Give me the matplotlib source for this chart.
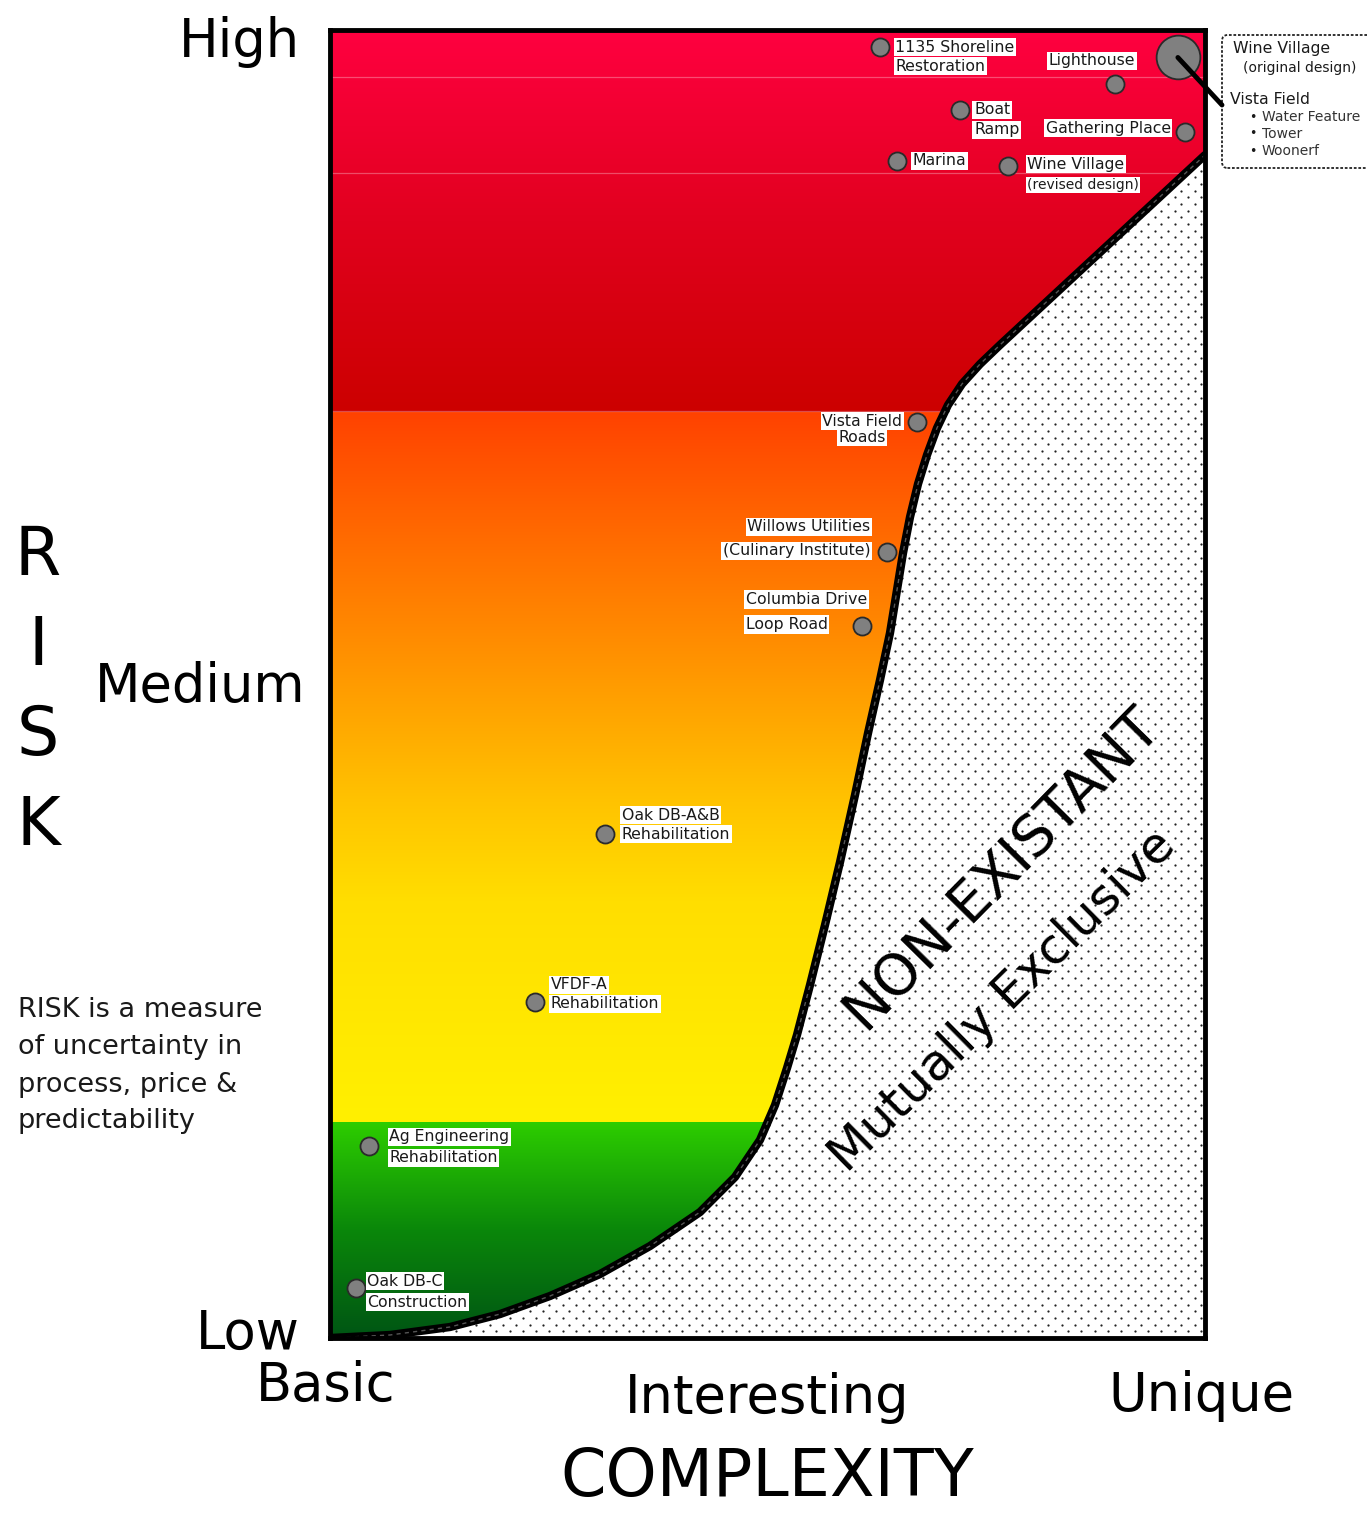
import numpy as np
import matplotlib
matplotlib.use("Agg")
import matplotlib.pyplot as plt
from matplotlib.patches import Polygon, FancyBboxPatch, ConnectionPatch
from matplotlib.colors import LinearSegmentedColormap

# ---------------- data ----------------
project_names = [
    "1135 Shoreline\nRestoration", "Lighthouse", "Wine Village (original)", "Boat\nRamp",
    "Gathering Place", "Marina", "Wine Village\n(revised design)", "Vista Field\nRoads",
    "Willows Utilities\n(Culinary Institute)", "Columbia Drive\nLoop Road",
    "Oak DB-A&B\nRehabilitation", "VFDF-A\nRehabilitation",
    "Ag Engineering\nRehabilitation", "Oak DB-C\nConstruction",
]
complexity = [62.9, 89.7, 96.9, 72.0, 97.7, 64.8, 77.5, 67.1, 63.7, 60.8, 31.4, 23.4, 4.5, 3.0]
risk = [98.7, 95.9, 97.9, 93.9, 92.2, 90.0, 89.6, 70.0, 60.1, 54.4, 38.5, 25.7, 14.7, 3.8]

boundary_x = [0.0, 6.86, 13.71, 19.43, 25.14, 30.86, 36.57, 42.29, 46.29, 49.14, 50.86,
              52.23, 53.37, 54.86, 56.57, 58.29, 60.0, 61.49, 62.86, 64.0, 64.8, 65.49,
              66.29, 67.2, 68.23, 69.37, 70.63, 72.23, 74.29, 76.57, 100.0]
boundary_y = [0.0, 0.23, 0.84, 1.83, 3.21, 4.89, 7.03, 9.63, 12.31, 15.14, 17.81,
              20.64, 23.17, 26.99, 31.57, 36.39, 41.51, 46.25, 50.31, 53.9, 57.19, 60.02,
              62.77, 65.29, 67.51, 69.57, 71.33, 72.94, 74.46, 75.92, 90.44]

band_bottom = [0.0, 16.5, 70.8]
band_top = [16.5, 70.8, 100.0]

risk_labels = ["High", "Medium", "Low"]
complexity_labels = ["Basic", "Interesting", "Unique"]

callout_lines = ["Wine Village", "(original design)", "Vista Field",
                 "Water Feature", "Tower", "Woonerf"]

# ---------------- figure ----------------
W, H = 1367, 1513
fig = plt.figure(figsize=(W / 100, H / 100), dpi=100)
fig.patch.set_facecolor("white")
ax = fig.add_axes([330 / W, 1 - 1338 / H, 875 / W, 1308 / H])


def fx(p):
    return p / W


def fy(p):
    return 1 - p / H


# region above the boundary curve (colored region)
region = Polygon(list(zip(boundary_x, boundary_y)) + [(100, 100), (0, 100)],
                 closed=True, facecolor="none", edgecolor="none", transform=ax.transData)
ax.add_patch(region)

# dotted "non-existant" background
gx = np.arange(0.76, 100, 1.52)
gy = np.arange(0.5, 100, 1.02)
X1, Y1 = np.meshgrid(gx, gy)
X2, Y2 = np.meshgrid(gx + 0.76, gy + 0.51)
ax.scatter(np.concatenate([X1.ravel(), X2.ravel()]), np.concatenate([Y1.ravel(), Y2.ravel()]),
           s=2.6, c="#222222", linewidths=0, zorder=1)

band_colors = [
    [(0.0, (0 / 255, 85 / 255, 20 / 255)), (0.5, (10 / 255, 135 / 255, 10 / 255)),
     (1.0, (45 / 255, 205 / 255, 0 / 255))],
    [(0.0, (255 / 255, 240 / 255, 0)), (0.31, (255 / 255, 222 / 255, 0)),
     (0.45, (255 / 255, 195 / 255, 0)), (0.68, (255 / 255, 140 / 255, 0)),
     (1.0, (255 / 255, 66 / 255, 0))],
    [(0.0, (204 / 255, 0, 0)), (0.5, (225 / 255, 0, 30 / 255)), (1.0, (255 / 255, 0, 64 / 255))],
]
for y0, y1, cols in zip(band_bottom, band_top, band_colors):
    cmap = LinearSegmentedColormap.from_list("b", cols)
    grad = np.linspace(0, 1, 256).reshape(-1, 1)
    im = ax.imshow(grad, extent=[0, 100, y0, y1], origin="lower", cmap=cmap,
                   aspect="auto", interpolation="bilinear", zorder=2)
    im.set_clip_path(region)

for yl in [96.4, 89.1, 70.9]:
    ln = ax.axhline(yl, color=(1, 1, 1, 0.3), lw=0.9, zorder=2.5)
    ln.set_clip_path(region)

# boundary curve
ax.plot(boundary_x, boundary_y, color="black", lw=6, zorder=3,
        solid_capstyle="round", solid_joinstyle="round")
ax.plot(boundary_x, boundary_y, color="#555555", lw=1.0, ls=(0, (3, 3)), zorder=3.1)

ax.set_xlim(0, 100)
ax.set_ylim(0, 100)
ax.set_xticks([])
ax.set_yticks([])
for s in ax.spines.values():
    s.set_linewidth(3.5)
    s.set_color("black")
    s.set_zorder(6)

# ---------------- points & labels ----------------
# per project: (dx px, dy px of first line, ha, line height px, font sizes per line)
FS = 11.3
label_style = [
    (15, 0, "left", 19, [FS, FS]),
    (-23, -23, "center", 0, [FS]),
    None,
    (14, 0, "left", 20, [FS, FS]),
    (-14, -4, "right", 0, [FS]),
    (16, 0, "left", 0, [FS]),
    (19, -2, "left", 21, [FS, 10]),
    (-55, -1, "center", 16, [FS, FS]),
    (-17, -25, "right", 24, [FS, FS]),
    (-116, -27, "left", 25, [FS, FS]),
    (17, -19, "left", 19, [FS, FS]),
    (16, -17, "left", 19, [FS, FS]),
    (20, -9, "left", 21, [FS, FS]),
    (11, -7, "left", 21, [FS, FS]),
]
for name, cx, ry, st in zip(project_names, complexity, risk, label_style):
    big = st is None
    ax.plot(cx, ry, "o", ms=31.5 if big else 13, mfc="#808080", mec="#2a2a2a",
            mew=1.3, zorder=5, clip_on=False)
    if big:
        continue
    dx, dy, ha, lh, sizes = st
    for i, (line, fs) in enumerate(zip(name.split("\n"), sizes)):
        ax.annotate(line, xy=(cx, ry), xytext=(dx * 0.72, -(dy + i * lh) * 0.72),
                    textcoords="offset points", ha=ha, va="center", fontsize=fs,
                    color="#1a1a1a", zorder=5.5,
                    bbox=dict(boxstyle="square,pad=0.1", fc="white", ec="none"))

# callout for Wine Village (original design)
box = FancyBboxPatch((fx(1222), fy(168)), fx(1400) - fx(1222), (168 - 35) / H,
                     boxstyle="round,pad=0,rounding_size=0.004", transform=fig.transFigure,
                     facecolor="white", edgecolor="#222222", lw=1.3, ls=(0, (1.5, 1.0)))
fig.add_artist(box)
con = ConnectionPatch(xyA=(complexity[2], risk[2]), coordsA=ax.transData,
                      xyB=(fx(1222), fy(105)), coordsB=fig.transFigure,
                      color="black", lw=3.5, zorder=7)
fig.add_artist(con)
fig.text(fx(1233), fy(49), callout_lines[0], fontsize=11.3, va="center", color="#1a1a1a")
fig.text(fx(1243), fy(68), callout_lines[1], fontsize=10, va="center", color="#1a1a1a")
fig.text(fx(1230), fy(100), callout_lines[2], fontsize=11.3, va="center", color="#1a1a1a")
for i, t in enumerate(callout_lines[3:]):
    fig.text(fx(1249), fy(117 + 17 * i), "\u2022", fontsize=9, va="center", color="#1a1a1a")
    fig.text(fx(1262), fy(117 + 17 * i), t, fontsize=10, va="center", color="#333333")

# ---------------- axis words ----------------
big = 38
fig.text(fx(300), fy(57), risk_labels[0], fontsize=big, ha="right", va="baseline")
fig.text(fx(305), fy(702), risk_labels[1], fontsize=big, ha="right", va="baseline")
fig.text(fx(300), fy(1349), risk_labels[2], fontsize=big, ha="right", va="baseline")
fig.text(fx(326), fy(1401), complexity_labels[0], fontsize=big, ha="center", va="baseline")
fig.text(fx(767), fy(1413), complexity_labels[1], fontsize=big, ha="center", va="baseline")
fig.text(fx(1201), fy(1411), complexity_labels[2], fontsize=big, ha="center", va="baseline")
fig.text(fx(767), fy(1496), "COMPLEXITY", fontsize=47, ha="center", va="baseline")

for letter, base in zip("RISK", [575, 665, 755, 845]):
    fig.text(fx(38), fy(base), letter, fontsize=48, ha="center", va="baseline")

for line, base in zip(["RISK is a measure", "of uncertainty in", "process, price &",
                       "predictability"], [1017, 1054, 1092, 1128]):
    fig.text(fx(18), fy(base), line, fontsize=19.5, ha="left", va="baseline", color="#1a1a1a")

ax.text(76.8, 35.9, "NON-EXISTANT", fontsize=41, rotation=45.5, rotation_mode="anchor",
        ha="center", va="center", zorder=4)
ax.text(76.9, 25.8, "Mutually Exclusive", fontsize=36, rotation=44.6, rotation_mode="anchor",
        ha="center", va="center", zorder=4)

fig.savefig("out.png", dpi=100)
